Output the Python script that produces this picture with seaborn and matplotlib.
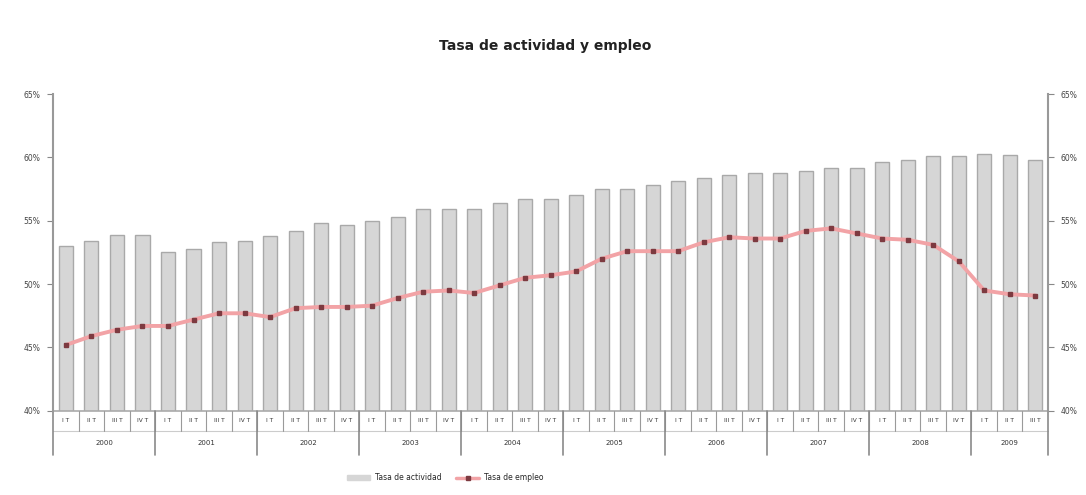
import numpy as np
import pandas as pd
import matplotlib
matplotlib.use("Agg")
import matplotlib.pyplot as plt
import matplotlib.transforms as mtransforms
from matplotlib.patches import Patch
from matplotlib.lines import Line2D
import seaborn as sns

years = ["2000", "2001", "2002", "2003", "2004", "2005", "2006", "2007", "2008", "2009"]
quarters_per_year = [4, 4, 4, 4, 4, 4, 4, 4, 4, 3]
quarter_labels = ["I T", "II T", "III T", "IV T"]

tasa_actividad = [53.0, 53.4, 53.9, 53.9, 52.5, 52.8, 53.3, 53.4, 53.8, 54.2,
                  54.8, 54.7, 55.0, 55.3, 55.9, 55.9, 55.9, 56.4, 56.7, 56.7,
                  57.0, 57.5, 57.5, 57.8, 58.1, 58.4, 58.6, 58.8, 58.8, 58.9,
                  59.2, 59.2, 59.6, 59.8, 60.1, 60.1, 60.3, 60.2, 59.8]
tasa_empleo = [45.2, 45.9, 46.4, 46.7, 46.7, 47.2, 47.7, 47.7, 47.4, 48.1,
               48.2, 48.2, 48.3, 48.9, 49.4, 49.5, 49.3, 49.9, 50.5, 50.7,
               51.0, 52.0, 52.6, 52.6, 52.6, 53.3, 53.7, 53.6, 53.6, 54.2,
               54.4, 54.0, 53.6, 53.5, 53.1, 51.8, 49.5, 49.2, 49.1]
y_ticks = [40, 45, 50, 55, 60, 65]
y_tick_labels = ["40%", "45%", "50%", "55%", "60%", "65%"]

cats = []
qlab = []
for y, nq in zip(years, quarters_per_year):
    for q in range(nq):
        cats.append(f"{y}-{quarter_labels[q]}")
        qlab.append(quarter_labels[q])
df = pd.DataFrame({"periodo": cats, "actividad": tasa_actividad, "empleo": tasa_empleo})
df["pos"] = np.arange(len(df))

sns.set_style("white")
plt.rcParams["font.family"] = ["DejaVu Sans"]

fig = plt.figure(figsize=(10.86, 4.95), dpi=100)
ax = fig.add_axes([0.049, 0.170, 0.916, 0.640])

bar_face = "#d6d6d6"
bar_edge = "#a9a9a9"
line_col = "#f2a3a6"
mark_col = "#7d3a40"

sns.barplot(data=df, x="periodo", y="actividad", ax=ax, color=bar_face,
            edgecolor=bar_edge, linewidth=1.0, width=0.55, saturation=1)
sns.lineplot(data=df, x="pos", y="empleo", ax=ax, color=line_col, linewidth=2.8,
             zorder=3)
ax.plot(df["pos"], df["empleo"], linestyle="none", marker="s", markersize=3.2,
        color=mark_col, zorder=4)

n = len(df)
ax.set_xlim(-0.5, n - 0.5)
ax.set_ylim(40, 65)
ax.set_yticks(y_ticks)
ax.set_yticklabels(y_tick_labels, fontsize=5.5, color="#444444")
ax.set_xticks([])
ax.set_xlabel("")
ax.set_ylabel("")
ax.tick_params(axis="y", length=4, width=0.8, color="#888888", direction="out", pad=5)

for side in ["top", "bottom"]:
    ax.spines[side].set_visible(False)
ax.spines["left"].set_color("#999999")
ax.spines["left"].set_linewidth(1.5)
ax.spines["right"].set_visible(False)

ax2 = ax.twinx()
ax2.set_ylim(40, 65)
ax2.set_yticks(y_ticks)
ax2.set_yticklabels(y_tick_labels, fontsize=5.5, color="#444444")
ax2.tick_params(axis="y", length=4, width=0.8, color="#888888", direction="out", pad=5)
for side in ["top", "bottom", "left"]:
    ax2.spines[side].set_visible(False)
ax2.spines["right"].set_color("#999999")
ax2.spines["right"].set_linewidth(1.5)

# Two-level category axis (quarters / years)
trans = mtransforms.blended_transform_factory(ax.transData, ax.transAxes)
ax_h_px = 0.640 * 495
row1 = -20 / ax_h_px
row2 = -44 / ax_h_px
sep_col = "#8a8a8a"
ax.plot([-0.5, n - 0.5], [0, 0], transform=trans, color="#aaaaaa", lw=1.2, clip_on=False)
ax.plot([-0.5, n - 0.5], [row1, row1], transform=trans, color="#cccccc", lw=0.8, clip_on=False)
for i in range(n):
    ax.text(i, row1 / 2, qlab[i], transform=trans, ha="center", va="center",
            fontsize=4.2, color="#333333")
    if i > 0:
        ax.plot([i - 0.5, i - 0.5], [0, row1], transform=trans, color="#9a9a9a",
                lw=0.8, clip_on=False)
start = 0
bounds = [-0.5]
for y, nq in zip(years, quarters_per_year):
    mid = start + (nq - 1) / 2
    ax.text(mid, (row1 + row2) / 2, y, transform=trans, ha="center", va="center",
            fontsize=5, color="#333333")
    start += nq
    bounds.append(start - 0.5)
for b in bounds:
    ax.plot([b, b], [0, row2], transform=trans, color=sep_col, lw=1.2, clip_on=False)

fig.text(0.502, 0.908, "Tasa de actividad y empleo", ha="center", va="center",
         fontsize=10, fontweight="bold", color="#222222")

handles = [Patch(facecolor=bar_face, edgecolor=bar_face, label="Tasa de actividad"),
           Line2D([0], [0], color=line_col, lw=2.5, marker="s", markersize=3,
                  markerfacecolor=mark_col, markeredgecolor=mark_col, label="Tasa de empleo")]
fig.legend(handles=handles, loc="center", bbox_to_anchor=(0.41, 0.035), ncol=2,
           frameon=False, fontsize=5.5, handlelength=3.0, columnspacing=2.0,
           handletextpad=0.6)

fig.savefig("out.png", dpi=100, facecolor="white")
